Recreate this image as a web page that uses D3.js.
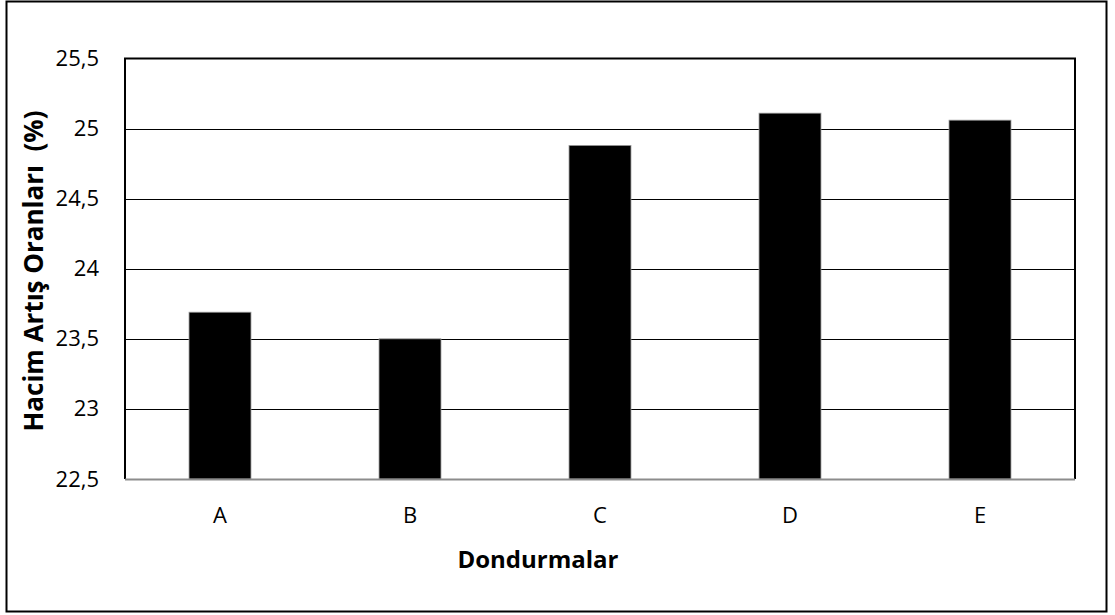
<!DOCTYPE html>
<html>
<head>
<meta charset="utf-8">
<script src="https://cdn.jsdelivr.net/npm/d3@7"></script>
<style>
  html, body { margin: 0; padding: 0; background: #fff; }
  svg { display: block; }
  text { font-family: "Open Sans", Lato, sans-serif; fill: #000; }
</style>
</head>
<body>
<svg id="chart" width="1115" height="615"></svg>
<script>
// Dondurma örneklerinin hacim artış oranları (%)
const categories = ["A", "B", "C", "D", "E"];
const values = [23.69, 23.50, 24.88, 25.11, 25.06];
const yTicks = [22.5, 23, 23.5, 24, 24.5, 25, 25.5];
const xTitle = "Dondurmalar";
const yTitle = "Hacim Artış Oranları  (%)";

const svg = d3.select("#chart");
const plot = { left: 125, right: 1075, top: 58.5, bottom: 479 };
const FONT = "'Open Sans', sans-serif";

// outer frame
svg.append("rect")
  .attr("x", 6.5).attr("y", 1.5)
  .attr("width", 1100).attr("height", 610)
  .attr("fill", "#fff").attr("stroke", "#000").attr("stroke-width", 2);

const x = d3.scaleBand()
  .domain(categories)
  .range([plot.left, plot.right])
  .paddingInner(0.674)
  .paddingOuter(0.337);

const y = d3.scaleLinear()
  .domain([22.5, 25.5])
  .range([plot.bottom, plot.top]);

const fmt = v => String(v).replace(".", ",");

// horizontal gridlines
svg.append("g")
  .selectAll("line")
  .data(yTicks.filter(t => t > 22.5 && t < 25.5))
  .join("line")
  .attr("x1", plot.left).attr("x2", plot.right)
  .attr("y1", d => Math.round(y(d)) + 0.5)
  .attr("y2", d => Math.round(y(d)) + 0.5)
  .attr("stroke", "#000").attr("stroke-width", 1.2);

// bars
svg.append("g")
  .selectAll("rect")
  .data(values)
  .join("rect")
  .attr("x", (d, i) => x(categories[i]))
  .attr("y", d => y(d))
  .attr("width", x.bandwidth())
  .attr("height", d => y(22.5) - y(d))
  .attr("fill", "#000")
  .attr("stroke", "#999").attr("stroke-width", 0.8);

// plot frame: top, left, right dark; bottom axis grey
svg.append("path")
  .attr("d", `M${plot.left},${plot.bottom} V${plot.top} H${plot.right} V${plot.bottom}`)
  .attr("fill", "none").attr("stroke", "#000").attr("stroke-width", 2);
svg.append("line")
  .attr("x1", plot.left).attr("x2", plot.right)
  .attr("y1", plot.bottom + 0.5).attr("y2", plot.bottom + 0.5)
  .attr("stroke", "#8c8c8c").attr("stroke-width", 2);

// y axis labels
const yAxis = d3.axisLeft(y).tickValues(yTicks).tickFormat(fmt).tickSize(0).tickPadding(26);
const gy = svg.append("g").attr("transform", `translate(${plot.left},0)`).call(yAxis);
gy.select(".domain").remove();
gy.selectAll("text").attr("font-size", 22).attr("font-family", FONT).attr("fill", "#000");

// x axis labels
const xAxis = d3.axisBottom(x).tickSize(0).tickPadding(28);
const gx = svg.append("g").attr("transform", `translate(0,${plot.bottom})`).call(xAxis);
gx.select(".domain").remove();
gx.selectAll("text").attr("font-size", 22).attr("font-family", FONT).attr("fill", "#000");

// axis titles
svg.append("text")
  .attr("x", 538).attr("y", 568)
  .attr("text-anchor", "middle")
  .attr("font-size", 24).attr("font-weight", "bold")
  .text(xTitle);

svg.append("text")
  .attr("transform", "translate(43,271) rotate(-90)")
  .attr("text-anchor", "middle")
  .attr("font-size", 26).attr("font-weight", "bold")
  .style("white-space", "pre")
  .text(yTitle);
</script>
</body>
</html>
